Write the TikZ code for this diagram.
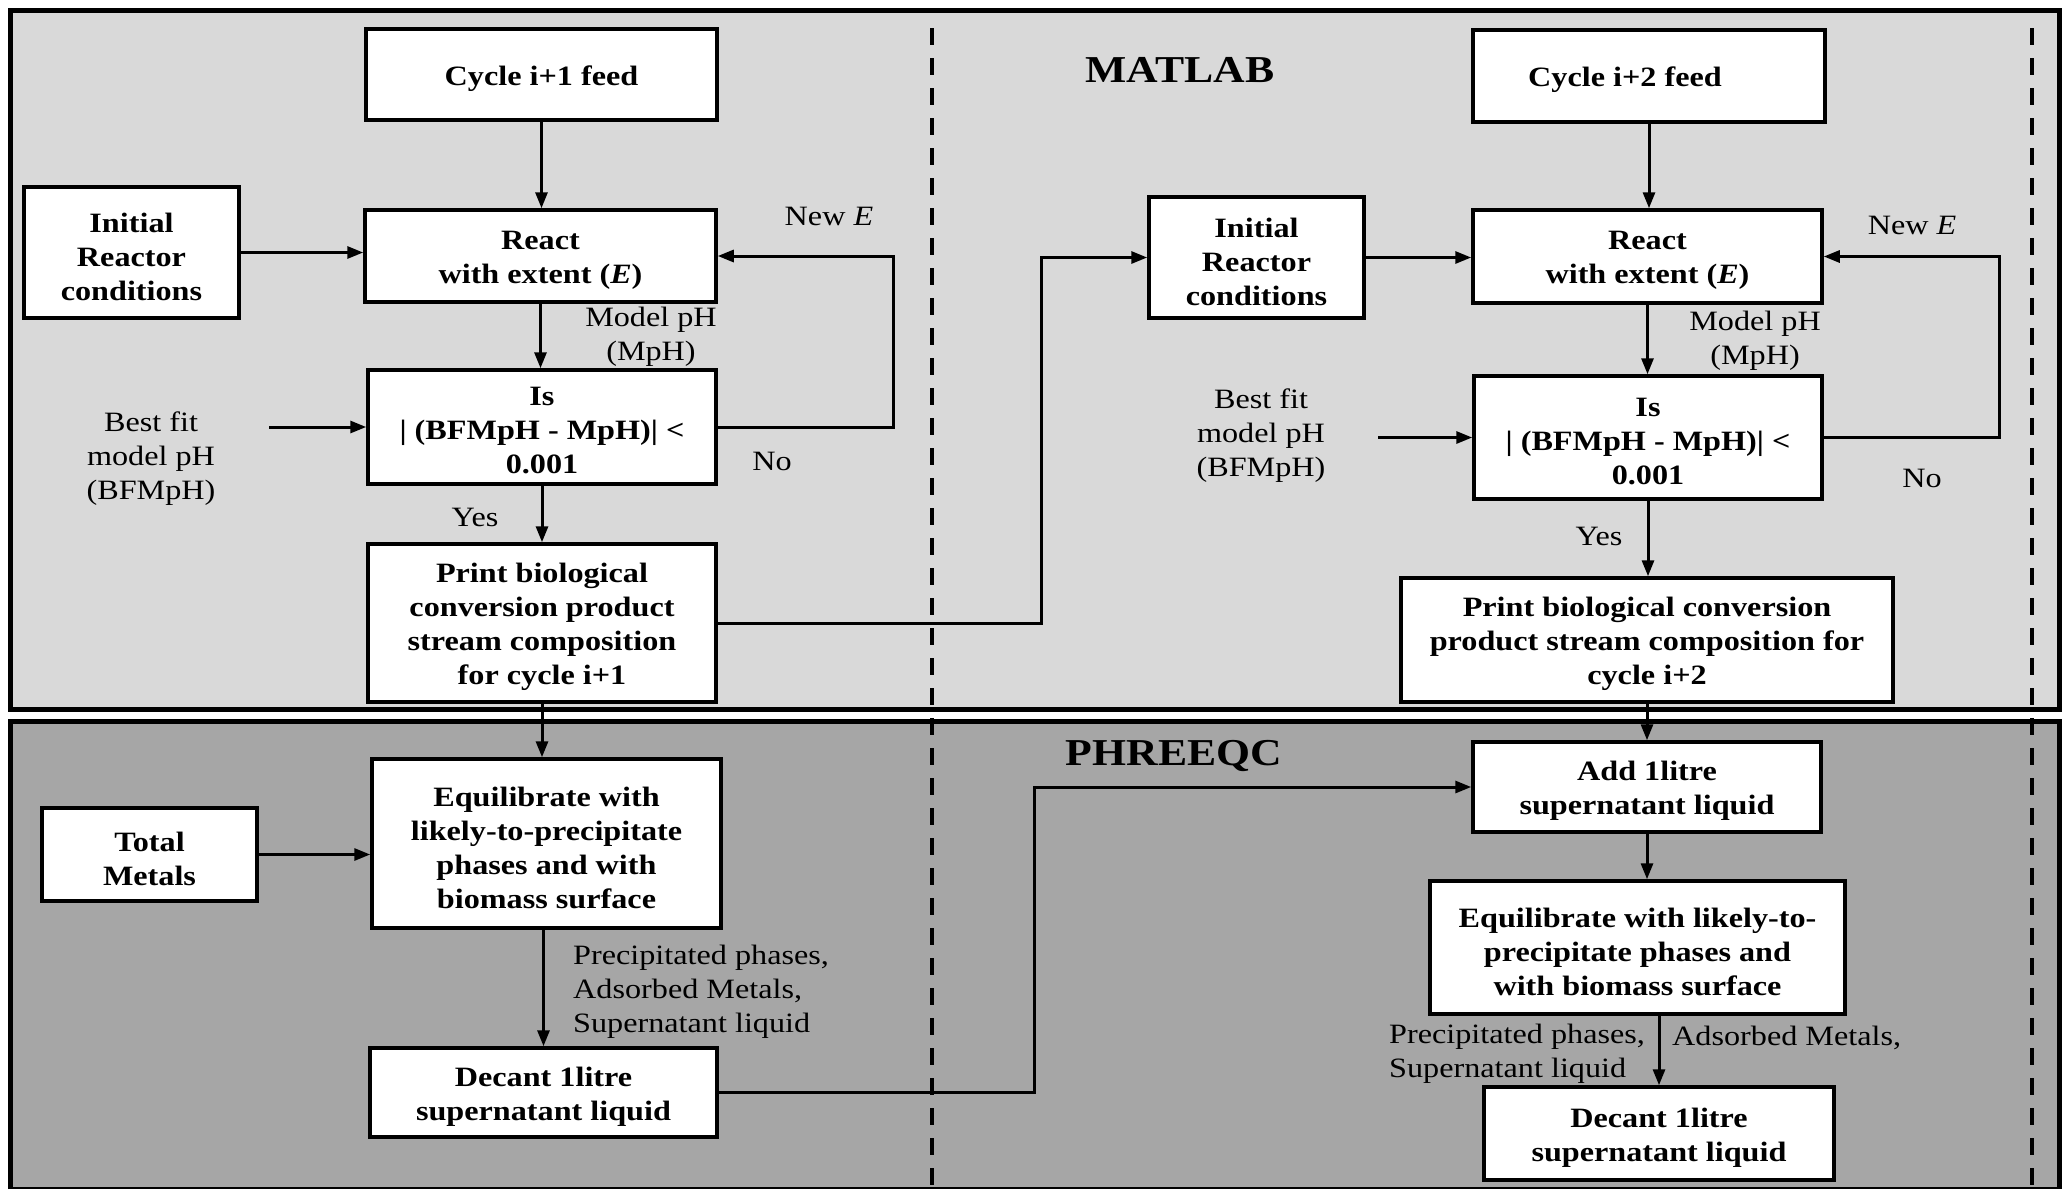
\documentclass[tikz,border=0pt]{standalone}
\usepackage{fontspec}
\setmainfont{Liberation Serif}[FakeStretch=1.15]
\usetikzlibrary{arrows.meta}
\definecolor{panelA}{HTML}{D9D9D9}
\definecolor{panelB}{HTML}{A6A6A6}
\tikzset{
 box/.style={draw, fill=white, line width=3.5pt, inner sep=0pt},
 boxtxt/.style={inner sep=0pt, align=center, yshift=-4pt, font=\fontsize{28}{34}\selectfont\bfseries},
 lbl/.style={inner sep=0pt, align=center, font=\fontsize{28}{34}\selectfont},
 arr/.style={line width=3pt, -{Triangle[length=16pt,width=12pt]}},
 paneltitle/.style={inner sep=0pt, font=\fontsize{38}{44}\selectfont\bfseries},
 divider/.style={line width=4pt, dash pattern=on 17pt off 13pt},
}
\newcommand{\isbox}{Is\\| (BFMpH - MpH)| <\\0.001}
\begin{document}
\begin{tikzpicture}[x=1pt,y=-1pt]
\useasboundingbox (0,0) rectangle (2067,1189);
% panels
\fill[white] (0,0) rectangle (2067,1189);
\draw[fill=panelA, line width=5pt] (10,10) rectangle (2059,709);
\fill[panelB] (10,721) rectangle (2059,1189);
\draw[line width=5pt] (10,1189) -- (10,721) -- (2059,721) -- (2059,1189);
\draw[line width=1.5pt] (10,1188) -- (2059,1188);
% dividers
\draw[divider] (932,28) -- (932,1189);
\draw[divider] (2032,28) -- (2032,1189);
% titles
\node[paneltitle] (matlab) at (1180,70) {MATLAB};
\node[paneltitle] (phreeqc) at (1174,756) {PHREEQC};
% left column boxes
\node[box, minimum width=351pt, minimum height=91pt, label={[boxtxt]center:{Cycle i+1 feed}}] (feed1) at (541.5,74.5) {};
\node[box, minimum width=215pt, minimum height=131pt, label={[boxtxt]center:{Initial\\Reactor\\conditions}}] (init1) at (131.5,252.5) {};
\node[box, minimum width=351pt, minimum height=92pt, label={[boxtxt]center:{React\\with extent (\textit{E})}}] (react1) at (540.5,256) {};
\node[box, minimum width=348pt, minimum height=114pt, label={[boxtxt]center:{\isbox}}] (is1) at (542,427) {};
\node[box, minimum width=348pt, minimum height=158pt, label={[boxtxt]center:{Print biological\\conversion product\\stream composition\\for cycle i+1}}] (print1) at (542,623) {};
\node[box, minimum width=349pt, minimum height=169pt, label={[boxtxt]center:{Equilibrate with\\likely-to-precipitate\\phases and with\\biomass surface}}] (equil1) at (546.5,843.5) {};
\node[box, minimum width=215pt, minimum height=93pt, label={[boxtxt]center:{Total\\Metals}}] (total) at (149.5,854.5) {};
\node[box, minimum width=347pt, minimum height=89pt, label={[boxtxt]center:{Decant 1litre\\supernatant liquid}}] (decant1) at (543.5,1092.5) {};
% right column boxes
\node[box, minimum width=352pt, minimum height=92pt, label={[boxtxt, xshift=-24pt]center:{Cycle i+2 feed}}] (feed2) at (1649,76) {};
\node[box, minimum width=215pt, minimum height=121pt, label={[boxtxt]center:{Initial\\Reactor\\conditions}}] (init2) at (1256.5,257.5) {};
\node[box, minimum width=349pt, minimum height=93pt, label={[boxtxt]center:{React\\with extent (\textit{E})}}] (react2) at (1647.5,256.5) {};
\node[box, minimum width=348pt, minimum height=123pt, label={[boxtxt]center:{\isbox}}] (is2) at (1648,437.5) {};
\node[box, minimum width=492pt, minimum height=124pt, label={[boxtxt]center:{Print biological conversion\\product stream composition for\\cycle i+2}}] (print2) at (1647,640) {};
\node[box, minimum width=348pt, minimum height=90pt, label={[boxtxt]center:{Add 1litre\\supernatant liquid}}] (add2) at (1647,787) {};
\node[box, minimum width=415pt, minimum height=133pt, label={[boxtxt]center:{Equilibrate with likely-to-\\precipitate phases and\\with biomass surface}}] (equil2) at (1637.5,947.5) {};
\node[box, minimum width=350pt, minimum height=93pt, label={[boxtxt]center:{Decant 1litre\\supernatant liquid}}] (decant2) at (1659,1133.5) {};
% labels
\node[lbl] (newe1) at (829,216) {New \textit{E}};
\node[lbl] (newe2) at (1912,225) {New \textit{E}};
\node[lbl] (mph1) at (651,337) {Model pH\\(MpH)};
\node[lbl] (mph2) at (1755,341) {Model pH\\(MpH)};
\node[lbl] (bf1) at (151,459) {Best fit\\model pH\\(BFMpH)};
\node[lbl] (bf2) at (1261,436) {Best fit\\model pH\\(BFMpH)};
\node[lbl] (no1) at (772,461) {No};
\node[lbl] (no2) at (1922,478) {No};
\node[lbl] (yes1) at (475,517) {Yes};
\node[lbl] (yes2) at (1599,536) {Yes};
\node[lbl, align=left, anchor=west] (pp1) at (573,992) {Precipitated phases,\\Adsorbed Metals,\\Supernatant liquid};
\node[lbl, align=left, anchor=west] (pp2) at (1389,1054) {Precipitated phases,\\Supernatant liquid};
\node[lbl, anchor=west] (am2) at (1672,1038) {Adsorbed Metals,};
% helper coordinates
\coordinate (bfs1) at (269,427);
\coordinate (bfs2) at (1378,437.5);
\coordinate (lp1) at (893,0);
\coordinate (lp2) at (1999,0);
\coordinate (c1) at (1041,0);
\coordinate (c2) at (1034,0);
% left connectors
\draw[arr] (feed1.south) -- (feed1.south |- react1.north);
\draw[arr] (init1.east) -- (init1.east -| react1.west);
\draw[arr] (react1.south) -- (react1.south |- is1.north);
\draw[arr] (bfs1) -- (bfs1 -| is1.west);
\draw[arr] (is1.east) -- (is1.east -| lp1) |- (react1.east);
\draw[arr] (is1.south) -- (is1.south |- print1.north);
\draw[arr] (print1.east) -- (print1.east -| c1) |- (init2.west);
\draw[arr] (print1.south) -- (print1.south |- equil1.north);
\draw[arr] (total.east) -- (total.east -| equil1.west);
\draw[arr] (equil1.south -| decant1.north) -- (decant1.north);
\draw[arr] (decant1.east) -- (decant1.east -| c2) |- (add2.west);
% right connectors
\draw[arr] (feed2.south) -- (feed2.south |- react2.north);
\draw[arr] (init2.east) -- (init2.east -| react2.west);
\draw[arr] (react2.south) -- (react2.south |- is2.north);
\draw[arr] (bfs2) -- (bfs2 -| is2.west);
\draw[arr] (is2.east) -- (is2.east -| lp2) |- (react2.east);
\draw[arr] (is2.south) -- (is2.south |- print2.north);
\draw[arr] (print2.south) -- (print2.south |- add2.north);
\draw[arr] (add2.south) -- (add2.south |- equil2.north);
\draw[arr] (equil2.south -| decant2.north) -- (decant2.north);
\end{tikzpicture}
\end{document}
